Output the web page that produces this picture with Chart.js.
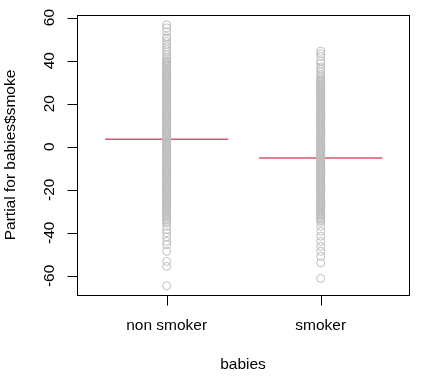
<!DOCTYPE html>
<html>
<head>
<meta charset="utf-8">
<script src="https://cdn.jsdelivr.net/npm/chart.js@4.4.1/dist/chart.umd.min.js"></script>
<style>
  html, body { margin: 0; padding: 0; background: #fff; }
  #wrap { width: 441px; height: 378px; }
</style>
</head>
<body>
<div id="wrap"><canvas id="chart" width="441" height="378"></canvas></div>
<script>
// Partial residuals for babies$smoke (termplot style)

const categories = ["non smoker", "smoker"];
const categoryPos = [1, 2];
const yTicks = [-60, -40, -20, 0, 20, 40, 60];
const xTitle = "babies";
const yTitle = "Partial for babies$smoke";

// fitted partial effect per level
const termEffect = [3.5, -5.3];

// partial residuals, non smoker
const nonSmokerResid = [
  56.6, 55.2, 53.4, 51.2, 50.4, 48.9, 47.6, 46.3, 45.1, 44.0, 42.8, 41.6, 40.9,
  40.0, 39.5, 39.1, 38.6, 38.0, 37.6, 37.1, 36.5, 36.1, 35.6,
  35.0, 34.5, 34.1, 33.6, 33.0, 32.6, 32.1, 31.5, 31.0, 30.6,
  30.1, 29.5, 29.0, 28.6, 28.1, 27.5, 27.0, 26.6, 26.1, 25.5,
  25.0, 24.6, 24.1, 23.5, 23.0, 22.6, 22.1, 21.5, 21.0, 20.6,
  20.1, 19.5, 19.0, 18.6, 18.1, 17.5, 17.0, 16.6, 16.1, 15.5,
  15.0, 14.6, 14.1, 13.5, 13.0, 12.6, 12.1, 11.5, 11.0, 10.6,
  10.1, 9.5, 9.0, 8.6, 8.1, 7.5, 7.0, 6.6, 6.1, 5.5,
  5.0, 4.6, 4.1, 3.5, 3.0, 2.6, 2.1, 1.5, 1.0, 0.6,
  0.1, -0.5, -1.0, -1.4, -1.9, -2.5, -3.0, -3.4, -3.9, -4.5,
  -5.0, -5.4, -5.9, -6.5, -7.0, -7.4, -7.9, -8.5, -9.0, -9.4,
  -9.9, -10.5, -11.0, -11.4, -11.9, -12.5, -13.0, -13.4, -13.9, -14.5,
  -15.0, -15.4, -15.9, -16.5, -17.0, -17.4, -17.9, -18.5, -19.0, -19.4,
  -19.9, -20.5, -21.0, -21.4, -21.9, -22.5, -23.0, -23.4, -23.9, -24.5,
  -25.0, -25.4, -25.9, -26.5, -27.0, -27.4, -27.9, -28.5, -29.0, -29.4, -29.9,
  -30.4, -31.0, -31.5, -32.1, -32.6, -33.3, -34.0, -34.7, -35.5,
  -37.0, -38.5, -40.0, -41.9, -44.0, -45.5, -48.6, -53.3, -55.6, -64.6
];

// partial residuals, smoker
const smokerResid = [
  44.4, 43.2, 42.0, 39.8, 38.6, 37.1, 36.0, 34.8, 33.5, 32.4, 31.5,
  31.0, 30.5, 30.1, 29.6, 29.0, 28.5, 28.1, 27.6, 27.0, 26.5,
  26.1, 25.6, 25.0, 24.5, 24.1, 23.6, 23.0, 22.5, 22.1, 21.6,
  21.0, 20.5, 20.1, 19.6, 19.0, 18.5, 18.1, 17.6, 17.0, 16.5,
  16.1, 15.6, 15.0, 14.5, 14.1, 13.6, 13.0, 12.5, 12.1, 11.6,
  11.0, 10.5, 10.1, 9.6, 9.0, 8.5, 8.1, 7.6, 7.0, 6.5,
  6.1, 5.6, 5.0, 4.5, 4.1, 3.6, 3.0, 2.5, 2.1, 1.6,
  1.0, 0.5, 0.1, -0.4, -1.0, -1.5, -1.9, -2.4, -3.0, -3.5,
  -3.9, -4.4, -5.0, -5.5, -5.9, -6.4, -7.0, -7.5, -7.9, -8.4,
  -9.0, -9.5, -9.9, -10.4, -11.0, -11.5, -11.9, -12.4, -13.0, -13.5,
  -13.9, -14.4, -15.0, -15.5, -15.9, -16.4, -17.0, -17.5, -17.9, -18.4,
  -19.0, -19.5, -19.9, -20.4, -21.0, -21.5, -21.9, -22.4, -23.0, -23.5,
  -23.9, -24.4, -25.0, -25.5, -25.9, -26.4, -27.0, -27.5, -27.9, -28.4,
  -29.0, -29.5, -29.9, -30.4, -31.0, -31.5, -31.9, -32.4, -33.0,
  -33.6, -34.3, -35.0, -37.0, -39.3, -41.6, -44.0, -46.3, -48.6, -50.9, -54.0, -61.2
];

const FONT = "'Liberation Sans', Arial, Helvetica, sans-serif";
const FONT_SIZE = 15.5;

// R-like axes, box and titles
const rAxesPlugin = {
  id: "rAxes",
  afterDraw(chart) {
    const { ctx, chartArea: area, scales } = chart;
    const xs = scales.x;
    const ys = scales.y;
    const tick = 10;

    const L = Math.round(area.left) + 0.5;
    const R = Math.round(area.right) + 0.5;
    const T = Math.round(area.top) + 0.5;
    const B = Math.round(area.bottom) + 0.5;

    ctx.save();
    ctx.strokeStyle = "#000";
    ctx.lineWidth = 1;
    ctx.strokeRect(L, T, R - L, B - T);

    ctx.fillStyle = "#000";
    ctx.font = FONT_SIZE + "px " + FONT;

    // y axis ticks
    ctx.beginPath();
    yTicks.forEach((v) => {
      const py = Math.round(ys.getPixelForValue(v)) + 0.5;
      ctx.moveTo(L, py);
      ctx.lineTo(L - tick, py);
    });
    ctx.stroke();
    ctx.textAlign = "center";
    ctx.textBaseline = "middle";
    yTicks.forEach((v) => {
      const py = ys.getPixelForValue(v);
      ctx.save();
      ctx.translate(49.5, py);
      ctx.rotate(-Math.PI / 2);
      ctx.fillText(String(v), 0, 0);
      ctx.restore();
    });

    // x axis ticks
    ctx.beginPath();
    categoryPos.forEach((p) => {
      const px = Math.round(xs.getPixelForValue(p)) + 0.5;
      ctx.moveTo(px, B);
      ctx.lineTo(px, B + tick);
    });
    ctx.stroke();
    categories.forEach((label, i) => {
      ctx.fillText(label, xs.getPixelForValue(categoryPos[i]), 326);
    });

    // titles
    ctx.fillText(xTitle, (area.left + area.right) / 2, 365);
    ctx.save();
    ctx.translate(11, (area.top + area.bottom) / 2);
    ctx.rotate(-Math.PI / 2);
    ctx.fillText(yTitle, 0, 0);
    ctx.restore();
    ctx.restore();
  },
};

const residSets = [nonSmokerResid, smokerResid].map((vals, i) => ({
  type: "scatter",
  data: vals.map((v) => ({ x: categoryPos[i], y: v })),
  pointStyle: "circle",
  pointRadius: 4,
  pointBorderWidth: 1,
  pointBorderColor: "#BEBEBE",
  pointBackgroundColor: "rgba(0,0,0,0)",
  showLine: false,
}));

const effectSets = termEffect.map((v, i) => ({
  type: "line",
  data: [
    { x: categoryPos[i] - 0.4, y: v },
    { x: categoryPos[i] + 0.4, y: v },
  ],
  borderColor: "#DF536B",
  borderWidth: 1.5,
  pointRadius: 0,
}));

new Chart(document.getElementById("chart"), {
  type: "scatter",
  data: { datasets: [...residSets, ...effectSets] },
  options: {
    responsive: false,
    animation: false,
    events: [],
    layout: { padding: { top: 15, right: 32, left: 0, bottom: 0 } },
    plugins: {
      legend: { display: false },
      tooltip: { enabled: false },
    },
    scales: {
      x: {
        type: "linear",
        min: 0.418,
        max: 2.573,
        grid: { display: false },
        border: { display: false },
        ticks: { display: false },
        afterFit(scale) { scale.height = 83; },
      },
      y: {
        type: "linear",
        min: -68.9,
        max: 61.2,
        grid: { display: false },
        border: { display: false },
        ticks: { display: false },
        afterFit(scale) { scale.width = 77; },
      },
    },
  },
  plugins: [rAxesPlugin],
});
</script>
</body>
</html>
